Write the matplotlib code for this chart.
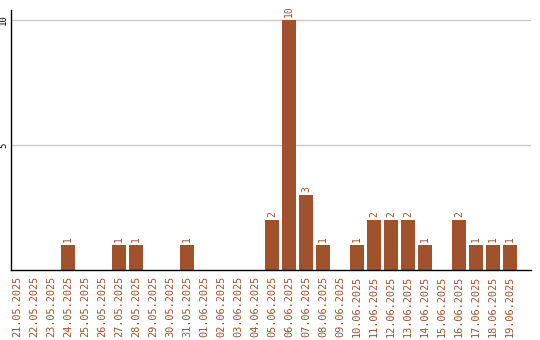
import matplotlib
matplotlib.use("Agg")
import matplotlib.pyplot as plt
import numpy as np

dates = [
    "21.05.2025", "22.05.2025", "23.05.2025", "24.05.2025", "25.05.2025",
    "26.05.2025", "27.05.2025", "28.05.2025", "29.05.2025", "30.05.2025",
    "31.05.2025", "01.06.2025", "02.06.2025", "03.06.2025", "04.06.2025",
    "05.06.2025", "06.06.2025", "07.06.2025", "08.06.2025", "09.06.2025",
    "10.06.2025", "11.06.2025", "12.06.2025", "13.06.2025", "14.06.2025",
    "15.06.2025", "16.06.2025", "17.06.2025", "18.06.2025", "19.06.2025",
]
counts = [0, 0, 0, 1, 0, 0, 1, 1, 0, 0,
          1, 0, 0, 0, 0, 2, 10, 3, 1, 0,
          1, 2, 2, 2, 1, 0, 2, 1, 1, 1]
y_ticks = [5, 10]

color = "#a0522d"

fig = plt.figure(figsize=(5.4, 3.4), dpi=100)
ax = fig.add_axes([11 / 540, 70 / 340, 520 / 540, 260 / 340])

x = np.arange(len(dates))
ax.bar(x, counts, width=0.82, color=color, zorder=2)

for xi, v in zip(x, counts):
    if v > 0:
        ax.text(xi, v + 0.12, str(v), rotation=90, ha="center", va="bottom",
                color=color, fontsize=7, family="DejaVu Sans Mono")

ax.set_xlim(-0.35, 30.24)
ax.set_ylim(0, 10.4)
ax.set_xticks(x)
ax.set_xticklabels(dates, rotation=90, color=color, fontsize=7.4,
                   family="DejaVu Sans Mono")
ax.set_yticks(y_ticks)
ax.set_yticklabels([str(t) for t in y_ticks], rotation=90, va="center",
                   fontsize=6.5, family="DejaVu Sans Mono")
ax.tick_params(axis="both", length=0)
ax.tick_params(axis="x", pad=4)
ax.tick_params(axis="y", pad=2)
ax.grid(True, axis="y", color="#c8c8c8", linewidth=1, zorder=0)
ax.set_axisbelow(True)
for side in ("top", "right"):
    ax.spines[side].set_visible(False)
for side in ("left", "bottom"):
    ax.spines[side].set_color("black")
    ax.spines[side].set_linewidth(1)

fig.savefig("out.png", dpi=100)
